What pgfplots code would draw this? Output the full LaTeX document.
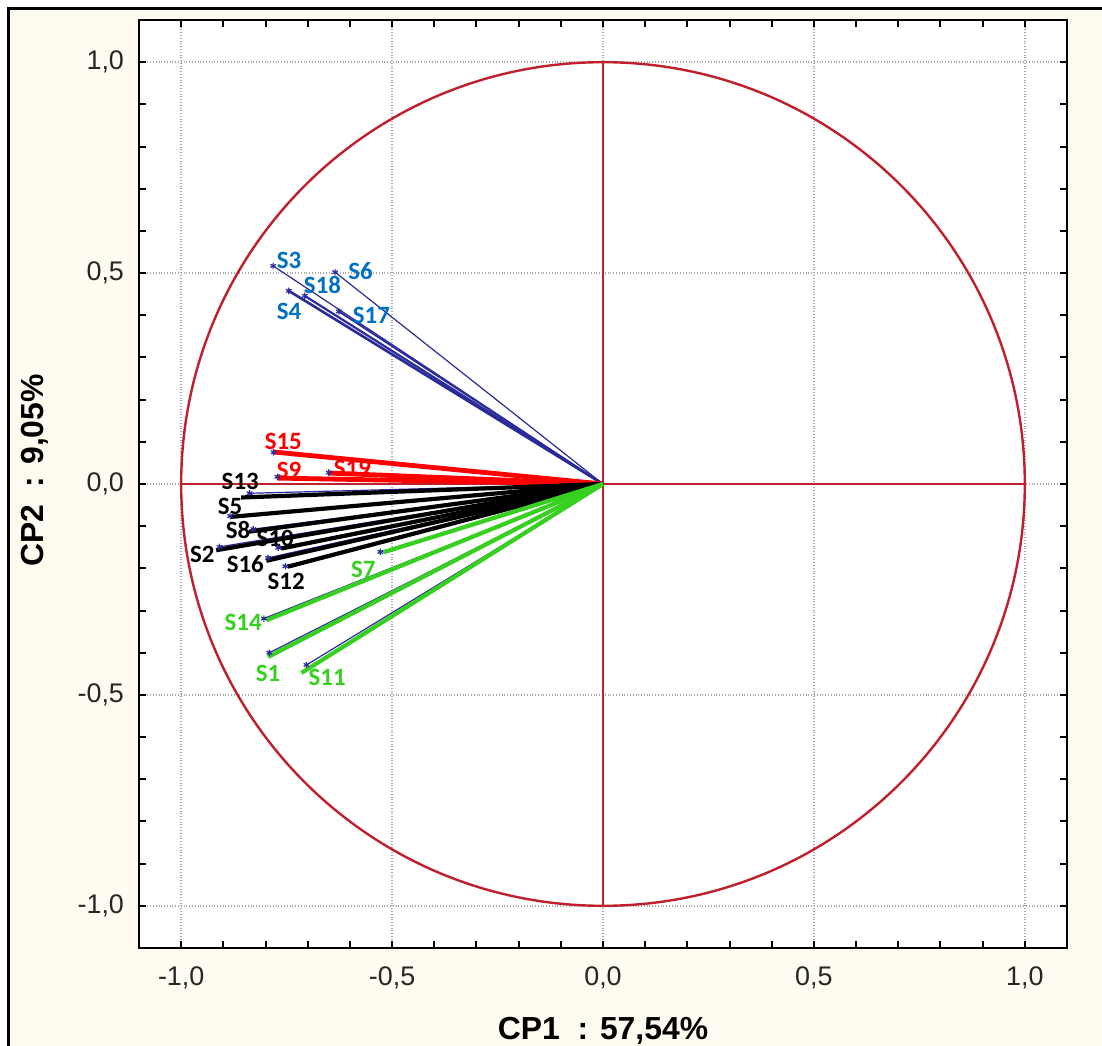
\documentclass[border=0pt]{standalone}
\usepackage{pgfplots}
\pgfplotsset{compat=1.18}
\usepackage{fontspec}
\setmainfont{Liberation Sans}
\newfontfamily\calibri{Carlito}
\definecolor{cream}{HTML}{FFFBF0}
\definecolor{circ}{HTML}{C0202E}
\definecolor{vblue}{HTML}{2A2A9A}
\definecolor{lblue}{HTML}{0070C0}
\definecolor{lred}{HTML}{FF0000}
\definecolor{lgreen}{HTML}{38D020}
\definecolor{gridc}{HTML}{A8A8A8}
\begin{document}
\begin{tikzpicture}
\fill[white] (-69.5bp,-49bp) rectangle (481.5bp,474bp);
\fill[cream] (-65bp,-49bp) rectangle (481.5bp,469.5bp);
\draw[line width=1.5bp] (-65bp,-49bp) -- (-65bp,469.5bp) -- (481.5bp,469.5bp);
\begin{axis}[at={(0,0)}, anchor=south west,
  width=464bp, height=464bp, scale only axis,
  xmin=-1.1, xmax=1.1, ymin=-1.1, ymax=1.1,
  xtick={-1,-0.5,0,0.5,1}, ytick={-1,-0.5,0,0.5,1},
  minor tick num=4,
  tick align=inside,
  major tick length=3.5bp, minor tick length=3.5bp,
  every tick/.style={black, line width=1bp},
  axis line style={line width=1.2bp},
  grid=major,
  major grid style={gridc, densely dotted, line width=0.7bp},
  axis background/.style={fill=white},
  /pgf/number format/.cd, fixed, fixed zerofill, precision=1, use comma, assume math mode=true,
  /pgfplots/.cd,
  ticklabel style={font=\fontsize{13.5}{15}\selectfont, text=black!85},
  xticklabel style={yshift=-6bp},
  yticklabel style={xshift=-4bp},
  label style={font=\fontsize{16}{18}\selectfont\bfseries},
  xlabel={CP1\ \ : 57,54\%},
  ylabel={CP2\ \ : 9,05\%},
  xlabel style={at={(axis description cs:0.5,-0.0894)}, anchor=center},
  ylabel style={at={(axis description cs:-0.1121,0.5145)}, anchor=center},
  vec/.style={vblue, line width=0.6bp, mark=asterisk, mark size=1.6bp, mark indices={2}, mark options={vblue, line width=0.6bp}},
  thk/.style={line width=2.1bp, no marks},
]
% unit circle and axes cross
\draw[circ, line width=1.2bp] (axis cs:0,0) circle [radius=1];
\addplot[circ, line width=0.9bp, no marks] coordinates {(-1,0) (1,0)};
\addplot[circ, line width=0.9bp, no marks] coordinates {(0,-1) (0,1)};

% blue group (thin vectors)
\addplot[vec] coordinates {(0,0) (-0.782,0.517)};
\addplot[vec] coordinates {(0,0) (-0.635,0.502)};
\addplot[vec, line width=1.1bp] coordinates {(0,0) (-0.707,0.446)};
\addplot[vec, line width=1.3bp] coordinates {(0,0) (-0.745,0.458)};
\addplot[vec, line width=0.9bp] coordinates {(0,0) (-0.626,0.409)};

% thin vectors under thick lines
\addplot[vec] coordinates {(0,0) (-0.781,0.075)};
\addplot[vec] coordinates {(0,0) (-0.772,0.017)};
\addplot[vec] coordinates {(0,0) (-0.650,0.027)};
\addplot[vec] coordinates {(0,0) (-0.838,-0.022)};
\addplot[vec] coordinates {(0,0) (-0.884,-0.076)};
\addplot[vec] coordinates {(0,0) (-0.829,-0.107)};
\addplot[vec] coordinates {(0,0) (-0.770,-0.151)};
\addplot[vec] coordinates {(0,0) (-0.909,-0.149)};
\addplot[vec] coordinates {(0,0) (-0.794,-0.175)};
\addplot[vec] coordinates {(0,0) (-0.753,-0.195)};
\addplot[vec] coordinates {(0,0) (-0.528,-0.161)};
\addplot[vec] coordinates {(0,0) (-0.804,-0.319)};
\addplot[vec] coordinates {(0,0) (-0.791,-0.400)};
\addplot[vec] coordinates {(0,0) (-0.703,-0.429)};

% red thick
\addplot[thk, lred, line width=2.4bp] coordinates {(-0.782,0.076) (0,0)};
\addplot[thk, lred, line width=2.4bp] coordinates {(-0.772,0.014) (0,0)};
\addplot[thk, lred, line width=2.4bp] coordinates {(-0.650,0.026) (0,0)};
% black thick
\addplot[thk, black] coordinates {(-0.858,-0.032) (0,0)};
\addplot[thk, black] coordinates {(-0.883,-0.078) (0,0)};
\addplot[thk, black] coordinates {(-0.839,-0.113) (0,0)};
\addplot[thk, black] coordinates {(-0.763,-0.153) (0,0)};
\addplot[thk, black] coordinates {(-0.917,-0.157) (0,0)};
\addplot[thk, black] coordinates {(-0.798,-0.182) (0,0)};
\addplot[thk, black] coordinates {(-0.747,-0.196) (0,0)};
% green thick
\addplot[thk, lgreen] coordinates {(-0.521,-0.162) (0,0)};
\addplot[thk, lgreen] coordinates {(-0.798,-0.323) (0,0)};
\addplot[thk, lgreen] coordinates {(-0.794,-0.410) (0,0)};
\addplot[thk, lgreen] coordinates {(-0.715,-0.448) (0,0)};

% labels
\begin{scope}[every node/.style={font=\calibri\bfseries\fontsize{12.5}{14}\selectfont, inner sep=0pt}]
\node[text=lblue] at (axis cs:-0.744,0.531) {S3};
\node[text=lblue] at (axis cs:-0.575,0.505) {S6};
\node[text=lblue] at (axis cs:-0.665,0.472) {S18};
\node[text=lblue] at (axis cs:-0.744,0.410) {S4};
\node[text=lblue] at (axis cs:-0.549,0.399) {S17};
\node[text=lred] at (axis cs:-0.758,0.100) {S15};
\node[text=lred] at (axis cs:-0.744,0.033) {S9};
\node[text=lred] at (axis cs:-0.594,0.038) {S19};
\node[text=black] at (axis cs:-0.860,0.007) {S13};
\node[text=black] at (axis cs:-0.884,-0.052) {S5};
\node[text=black] at (axis cs:-0.865,-0.109) {S8};
\node[text=black] at (axis cs:-0.777,-0.130) {S10};
\node[text=black] at (axis cs:-0.950,-0.166) {S2};
\node[text=black] at (axis cs:-0.848,-0.190) {S16};
\node[text=black] at (axis cs:-0.751,-0.230) {S12};
\node[text=lgreen] at (axis cs:-0.568,-0.202) {S7};
\node[text=lgreen] at (axis cs:-0.853,-0.327) {S14};
\node[text=lgreen] at (axis cs:-0.794,-0.448) {S1};
\node[text=lgreen] at (axis cs:-0.654,-0.458) {S11};
\end{scope}
\end{axis}
\pgfresetboundingbox
\path[use as bounding box] (-69.5bp,-49bp) rectangle (481.5bp,474bp);
\end{tikzpicture}
\end{document}
